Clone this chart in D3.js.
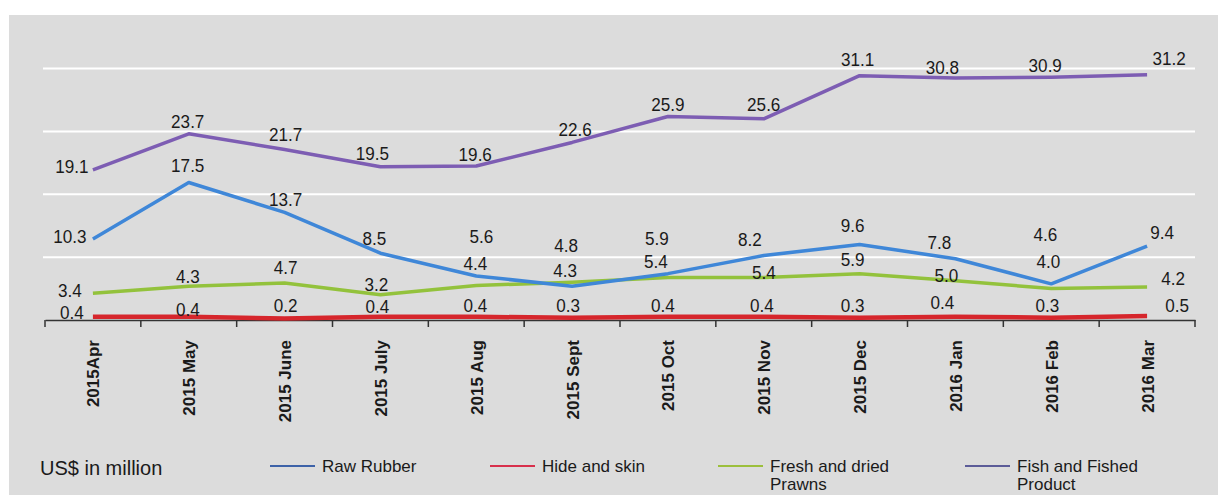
<!DOCTYPE html>
<html>
<head>
<meta charset="utf-8">
<script src="https://cdn.jsdelivr.net/npm/d3@7"></script>
<style>
  html, body { margin: 0; padding: 0; background: #ffffff; }
  svg { display: block; font-family: "Liberation Sans", Arial, sans-serif; }
</style>
</head>
<body>
<svg id="chart" width="1218" height="495"></svg>
<script>
// ---- data ----
const months = ["2015Apr", "2015 May", "2015 June", "2015 July", "2015 Aug", "2015 Sept",
                "2015 Oct", "2015 Nov", "2015 Dec", "2016 Jan", "2016 Feb", "2016 Mar"];
const rawRubber   = [10.3, 17.5, 13.7, 8.5, 5.6, 4.3, 5.9, 8.2, 9.6, 7.8, 4.6, 9.4];
const hideSkin    = [0.4, 0.4, 0.2, 0.4, 0.4, 0.3, 0.4, 0.4, 0.3, 0.4, 0.3, 0.5];
const prawns      = [3.4, 4.3, 4.7, 3.2, 4.4, 4.8, 5.4, 5.4, 5.9, 5.0, 4.0, 4.2];
const fishProduct = [19.1, 23.7, 21.7, 19.5, 19.6, 22.6, 25.9, 25.6, 31.1, 30.8, 30.9, 31.2];
const seriesNames = ["Raw Rubber", "Hide and skin", "Fresh and dried Prawns", "Fish and Fished Product"];
const yTicks = [0, 8, 16, 24, 32];
const unitLabel = "US$ in million";

// label nudges (pixels, relative to the point) as in the reference
const rubberNudge = [[-23,-2],[-1,-16.5],[1,-12.5],[-6,-15],[5,-39],[-7,-16],[-11,-34.5],[-14,-15.5],[-7,-18.5],[-16,-16.5],[-6,-49],[15,-13.5]];
const hideNudge   = [[-21,-4],[-1,-7],[1,-13],[-3,-10],[-1,-11],[-4,-12],[-5,-11],[-2,-11],[-7,-12],[-13,-14],[-4,-12],[30,-10]];
const prawnNudge  = [[-23,-3],[-1,-10],[1,-15],[-4,-10],[-1,-22],[-6,-37],[-12,-15.5],[0,-4.5],[-7,-13.5],[-9,-5.5],[-3,-26.5],[26,-8]];
const fishNudge   = [[-21,-3],[-1,-12],[1,-14.5],[-8,-13],[-1,-11],[3,-13],[0,-11.5],[0,-14],[-2,-16],[-13,-10],[-6,-12],[22,-16]];

// ---- layout ----
const svg = d3.select("#chart");
const W = 1218, H = 495;
const plot = { left: 45, right: 1195, top: 45, bottom: 320 };

svg.append("rect").attr("x", 9).attr("y", 15).attr("width", W - 9).attr("height", H - 15)
  .attr("fill", "#dcdcdc");

const x = d3.scaleBand().domain(months).range([plot.left, plot.right]).padding(0);
const y = d3.scaleLinear().domain([0, 35]).range([plot.bottom, plot.top]);
const cx = m => x(m) + x.bandwidth() / 2;

// gridlines
svg.append("g").selectAll("line").data(yTicks.filter(t => t > 0)).join("line")
  .attr("x1", plot.left - 2).attr("x2", plot.right)
  .attr("y1", d => y(d)).attr("y2", d => y(d))
  .attr("stroke", "#ffffff").attr("stroke-width", 2);

// x axis
const xAxis = d3.axisBottom(x).tickSize(0).tickFormat("");
const gx = svg.append("g").attr("transform", `translate(0,${plot.bottom})`).call(xAxis);
gx.select(".domain").attr("stroke", "#333").attr("stroke-width", 1.5);
// boundary ticks
const bounds = months.map(m => x(m)).concat([plot.right]);
gx.selectAll("line.bt").data(bounds).join("line").attr("class", "bt")
  .attr("x1", d => d).attr("x2", d => d).attr("y1", 0).attr("y2", 7)
  .attr("stroke", "#333").attr("stroke-width", 1.5);
// rotated labels
gx.selectAll("text.ml").data(months).join("text").attr("class", "ml")
  .attr("transform", d => `translate(${cx(d) + 1},${20}) rotate(-90)`)
  .attr("text-anchor", "end").attr("dominant-baseline", "central")
  .attr("font-size", 17).attr("font-weight", "bold").attr("fill", "#1a1a1a")
  .text(d => d);

// series
const series = [
  { name: seriesNames[0], values: rawRubber,   color: "#3f87d8", width: 3.5, nudge: rubberNudge, legendColor: "#3d62a8" },
  { name: seriesNames[1], values: hideSkin,    color: "#d6262c", width: 4.5, nudge: hideNudge,   legendColor: "#d8304c" },
  { name: seriesNames[2], values: prawns,      color: "#93c23c", width: 3.5, nudge: prawnNudge,  legendColor: "#9cbf3c" },
  { name: seriesNames[3], values: fishProduct, color: "#7d5db3", width: 3.5, nudge: fishNudge,   legendColor: "#5c5c98" }
];

const line = d3.line().x((d, i) => cx(months[i])).y(d => y(d));
const drawOrder = [1, 2, 0, 3];
drawOrder.forEach(k => {
  const s = series[k];
  svg.append("path").datum(s.values).attr("d", line)
    .attr("fill", "none").attr("stroke", s.color).attr("stroke-width", s.width)
    .attr("stroke-linejoin", "round").attr("stroke-linecap", "butt");
});

// value labels
series.forEach(s => {
  svg.append("g").selectAll("text").data(s.values).join("text")
    .attr("transform", (d, i) => `translate(${cx(months[i]) + s.nudge[i][0]},${y(d) + s.nudge[i][1]}) scale(0.9,1)`)
    .attr("text-anchor", "middle").attr("dominant-baseline", "central")
    .attr("font-size", 19).attr("fill", "#1a1a1a")
    .text(d => d.toFixed(1));
});

// legend
svg.append("text").attr("x", 40).attr("y", 475).attr("font-size", 20).attr("fill", "#1a1a1a")
  .text(unitLabel);
const legendX = [270, 490, 718, 965];
const legendLines = [["Raw Rubber"], ["Hide and skin"], ["Fresh and dried", "Prawns"], ["Fish and Fished", "Product"]];
series.forEach((s, i) => {
  const g = svg.append("g").attr("transform", `translate(${legendX[i]},466)`);
  g.append("line").attr("x1", 0).attr("x2", 45).attr("y1", 0).attr("y2", 0)
    .attr("stroke", s.legendColor).attr("stroke-width", 2);
  const t = g.append("text").attr("x", 52).attr("y", 6).attr("font-size", 17).attr("fill", "#1a1a1a");
  legendLines[i].forEach((ln, j) => {
    t.append("tspan").attr("x", 52).attr("dy", j === 0 ? 0 : 18).text(ln);
  });
});
</script>
</body>
</html>
